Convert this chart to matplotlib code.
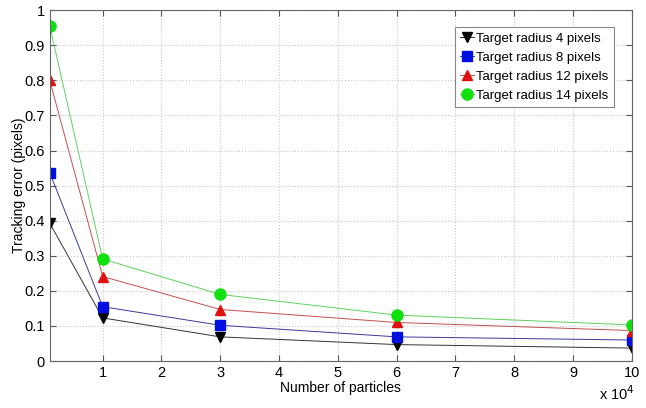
import matplotlib
matplotlib.use('Agg')
import matplotlib.pyplot as plt

# particles in units of 10^4
particles = [0.1, 1, 3, 6, 10]
err_r4 = [0.393, 0.123, 0.069, 0.047, 0.037]
err_r8 = [0.537, 0.155, 0.102, 0.069, 0.060]
err_r12 = [0.800, 0.241, 0.147, 0.110, 0.087]
err_r14 = [0.955, 0.291, 0.190, 0.131, 0.103]
labels = ['Target radius 4 pixels', 'Target radius 8 pixels',
          'Target radius 12 pixels', 'Target radius 14 pixels']

plt.rcParams['font.family'] = ['Liberation Sans', 'DejaVu Sans']

fig = plt.figure(figsize=(6.46, 4.08), dpi=100)
ax = fig.add_axes([0.077, 0.115, 0.901, 0.86])

ax.plot(particles, err_r4, color='#333333', lw=0.7, marker='v', ms=7,
        mfc='black', mec='black', label=labels[0])
ax.plot(particles, err_r8, color='#3a3a9a', lw=0.7, marker='s', ms=6.5,
        mfc='#0010e0', mec='#0010e0', label=labels[1])
ax.plot(particles, err_r12, color='#c05050', lw=0.7, marker='^', ms=7.5,
        mfc='#e01010', mec='#e01010', label=labels[2])
ax.plot(particles, err_r14, color='#60d060', lw=0.7, marker='o', ms=8,
        mfc='#10e010', mec='#10e010', label=labels[3])

ax.set_xlim(0.1, 10)
ax.set_ylim(0, 1)
ax.set_xticks(range(1, 11))
ax.set_yticks([i / 10 for i in range(11)])
ax.set_yticklabels(['0', '0.1', '0.2', '0.3', '0.4', '0.5', '0.6', '0.7', '0.8', '0.9', '1'])
ax.grid(True, linestyle=':', color='#c8c8c8', lw=0.8)
ax.tick_params(direction='in', top=True, right=True, labelsize=10.5, length=4, color='#555555')
for s in ax.spines.values():
    s.set_color('#666666')
    s.set_linewidth(0.8)

ax.set_xlabel('Number of particles', fontsize=10, labelpad=1)
ax.set_ylabel('Tracking error (pixels)', fontsize=10, labelpad=-1)
fig.text(0.928, 0.02, r'x 10$^{4}$', fontsize=10.5)

leg = ax.legend(loc='upper right', bbox_to_anchor=(0.969, 0.952), borderaxespad=0,
                fontsize=9.5, fancybox=False, framealpha=1, edgecolor='#888888',
                handlelength=1.0, handletextpad=0.2, borderpad=0.4, labelspacing=0.52)
leg.get_frame().set_linewidth(0.8)

fig.savefig('out.png', dpi=100)
